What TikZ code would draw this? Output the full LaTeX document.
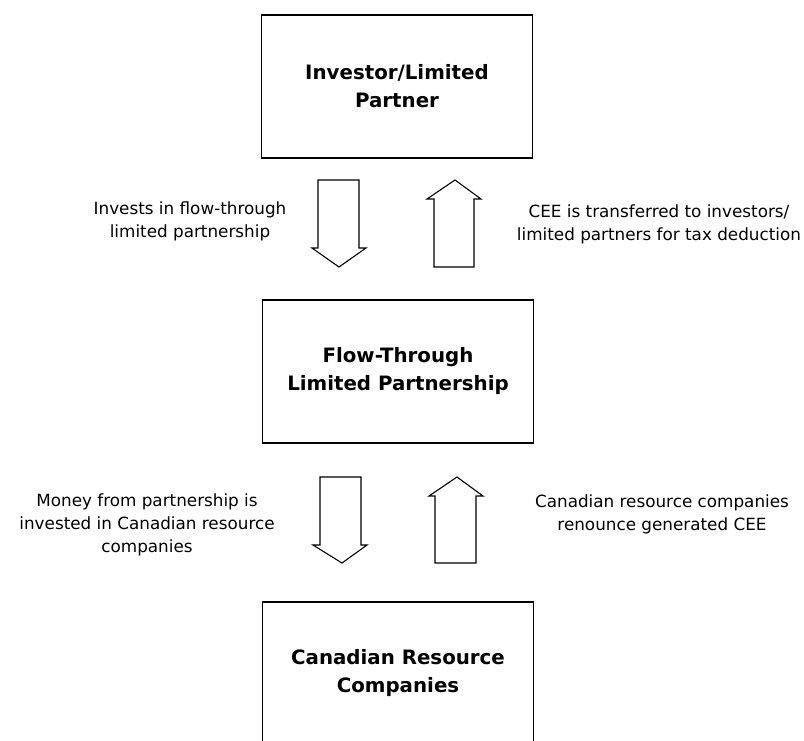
\documentclass[tikz,border=0pt]{standalone}
\usepackage{fontspec}
\setmainfont{DejaVu Sans}
\usetikzlibrary{positioning}

\begin{document}
\begin{tikzpicture}[x=1pt,y=-1pt,
    box/.style={draw,line width=1.3pt,minimum width=271pt,minimum height=143pt,
        align=center,inner sep=0pt,font=\bfseries\fontsize{19.8}{28}\selectfont},
    note/.style={align=center,inner sep=0pt,font=\fontsize{16.8}{23}\selectfont},
    block/.style={draw,line width=1.1pt,line join=miter}]

    % Fix the page size
    \useasboundingbox (0,0) rectangle (804,740);
    \clip (0,0) rectangle (804,740);

    % The three boxes
    \node[box] (investor) at (397,86.5) {Investor/Limited\\Partner};
    \node[box] (partnership) at (398,371.5) {Flow-Through\\Limited Partnership};
    \node[box] (companies) at (398,673.5) {Canadian Resource\\Companies};

    % Block arrows between investor and partnership
    \draw[block] (318,180) -- ++(41,0) -- ++(0,68) -- ++(7,0) -- (339,267)
        -- (312,248) -- ++(6,0) -- cycle;
    \draw[block] (434,267) -- ++(40,0) -- ++(0,-68) -- ++(7,0) -- (455,180)
        -- (427,199) -- ++(7,0) -- cycle;

    % Block arrows between partnership and companies
    \draw[block] (320,477) -- ++(41,0) -- ++(0,68) -- ++(6,0) -- (342,563)
        -- (313,545) -- ++(7,0) -- cycle;
    \draw[block] (435,563) -- ++(41,0) -- ++(0,-67) -- ++(7,0) -- (457,477)
        -- (429,496) -- ++(6,0) -- cycle;

    % Labels beside the arrows
    \node[note] (invests) at (190,221) {Invests in flow-through\\limited partnership};
    \node[note] (transfer) at (659,224) {CEE is transferred to investors/\\limited partners for tax deduction};
    \node[note] (money) at (147,525) {Money from partnership is\\invested in Canadian resource\\companies};
    \node[note] (renounce) at (662,514) {Canadian resource companies\\renounce generated CEE};

\end{tikzpicture}
\end{document}
